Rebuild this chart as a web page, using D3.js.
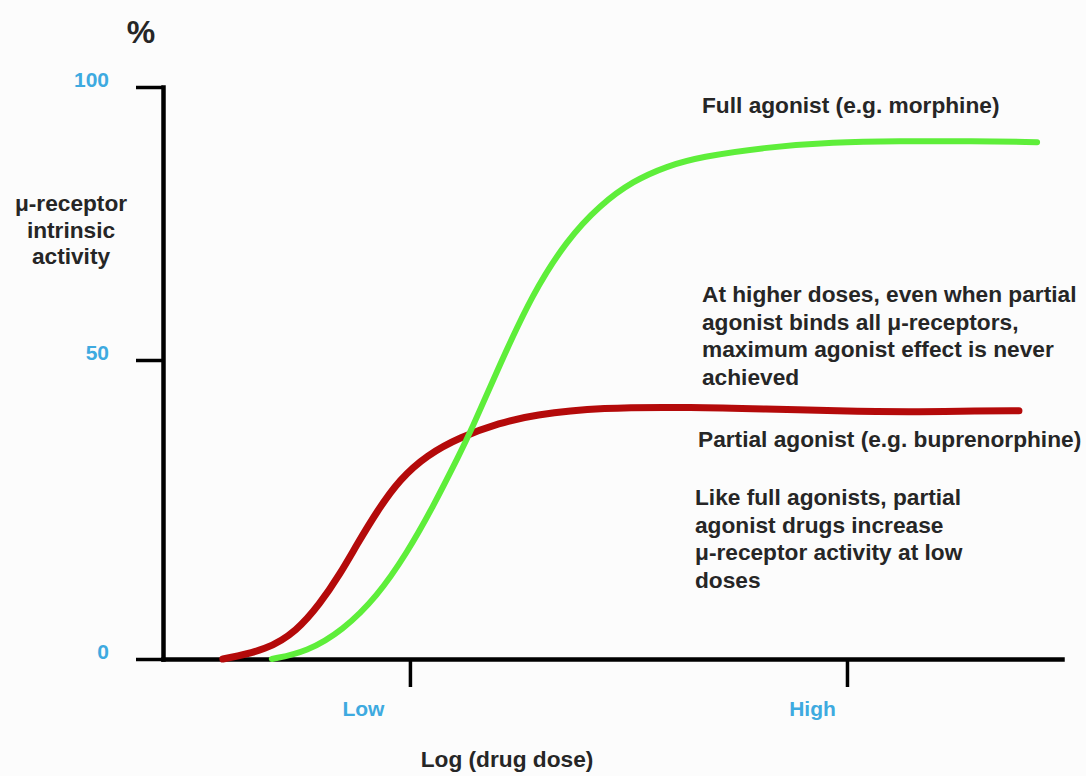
<!DOCTYPE html>
<html>
<head>
<meta charset="utf-8">
<script src="https://cdn.jsdelivr.net/npm/d3@7"></script>
<style>
	body {margin:0; background:#fcfcfc}
	svg {display:block; font-family:"Liberation Sans", Arial, sans-serif; font-weight:bold}
</style>
</head>
<body>
<svg id="chart" width="1086" height="776"></svg>
<script>
/*** Data ***/
var yTicks = [0, 50, 100]
var xTicks = [1, 3]
var xTickLabels = ["Low", "High"]

var partialDose     = [0.144, 0.346, 0.483, 0.588, 0.680, 0.757, 0.849, 0.954, 1.078, 1.229, 1.412, 1.563, 1.870, 2.300, 2.629, 2.954, 3.284, 3.609, 3.787]
var partialActivity = [0,     1.5,   4.7,   9.2,   14.2,  19.1,  24.7,  30.1,  34.1,  37.1,  39.5,  40.8,  42.1,  42.1,  41.8,  41.5,  41.3,  41.5,  41.5]

var fullDose     = [0.368, 0.529, 0.693, 0.849, 0.986, 1.105, 1.229, 1.275, 1.412, 1.563, 1.719, 1.870, 2.021, 2.176, 2.327, 2.634, 2.936, 3.243, 3.549, 3.870]
var fullActivity = [0,     1.2,   4.8,   10.4,  17.7,  25.4,  34.4,  37.8,  49.3,  62.3,  72.0,  78.4,  82.8,  85.5,  87.2,  89.0,  89.9,  90.1,  90.1,  89.9]

var yLabel = ["\u03bc-receptor", "intrinsic", "activity"]
var xLabel = "Log (drug dose)"
var fullLabel = "Full agonist (e.g. morphine)"
var partialLabel = "Partial agonist (e.g. buprenorphine)"
var noteHigh = ["At higher doses, even when partial", "agonist binds all \u03bc-receptors,", "maximum agonist effect is never", "achieved"]
var noteLow = ["Like full agonists, partial", "agonist drugs increase", "\u03bc-receptor activity at low", "doses"]

/*** Draw ***/
var ink = "#262626", cyan = "#3eaae0", fs = 22.7
var m = d3.select("#chart")

var x = d3.scaleLinear().domain([-0.13, 3.984]).range([163, 1062])
var y = d3.scaleLinear().domain([0, 50, 100]).range([659, 360, 87])

function mkt(g, lines, px, py, lh, anchor) {
	var t = g.append("text")
	         .attr("x", px).attr("y", py)
	         .attr("fill", ink)
	         .attr("font-size", fs)
	         .attr("text-anchor", anchor ?? "start")
	t.selectAll("tspan")
	 .data(lines)
	 .enter()
	 .append("tspan")
	 .attr("x", px)
	 .attr("dy", (d, i) => {return i == 0 ? 0 : lh})
	 .text((d) => {return d})
}

// axes
var ya = m.append("g")
          .attr("transform", "translate(" + x.range()[0] + ",0)")
          .call(d3.axisLeft(y).tickValues(yTicks).tickSize(27).tickSizeOuter(0).tickPadding(27))
var xa = m.append("g")
          .attr("transform", "translate(0," + y(0) + ")")
          .call(d3.axisBottom(x).tickValues(xTicks).tickSize(28).tickSizeOuter(0)
                  .tickFormat((d, i) => {return xTickLabels[i]}))

m.selectAll(".domain").attr("stroke", "#000").attr("stroke-width", 4.5).attr("stroke-linecap", "square")
m.selectAll(".tick line").attr("stroke", "#000").attr("stroke-width", 3.5)
m.selectAll(".tick text")
 .attr("fill", cyan)
 .attr("font-size", 21)
 .attr("font-family", "Liberation Sans, Arial, sans-serif")
 .attr("font-weight", "bold")
ya.selectAll(".tick text").attr("dy", 0).attr("y", -1)
xa.selectAll(".tick text")
  .attr("dy", 0)
  .attr("y", 57)
  .attr("dx", (d, i) => {return [-47, -35][i]})

// curves
var line = d3.line()
             .x((d) => {return x(d[0])})
             .y((d) => {return y(d[1])})
             .curve(d3.curveBasis)

m.append("path")
 .datum(d3.zip(partialDose, partialActivity))
 .attr("d", line)
 .attr("fill", "none")
 .attr("stroke", "#b40a0a")
 .attr("stroke-width", 7)
 .attr("stroke-linecap", "round")

m.append("path")
 .datum(d3.zip(fullDose, fullActivity))
 .attr("d", line)
 .attr("fill", "none")
 .attr("stroke", "#5eee3a")
 .attr("stroke-width", 6)
 .attr("stroke-linecap", "round")

// labels
m.append("text")
 .attr("x", 141).attr("y", 43)
 .attr("text-anchor", "middle")
 .attr("font-size", 32)
 .attr("fill", ink)
 .text("%")

mkt(m, yLabel, 71, 211, 26.5, "middle")
mkt(m, [xLabel], 507, 767, 0, "middle")
mkt(m, [fullLabel], 702, 113, 0)
mkt(m, noteHigh, 702, 302, 27.7)
mkt(m, [partialLabel], 698, 447, 0)
mkt(m, noteLow, 695, 505, 27.5)
</script>
</body>
</html>
